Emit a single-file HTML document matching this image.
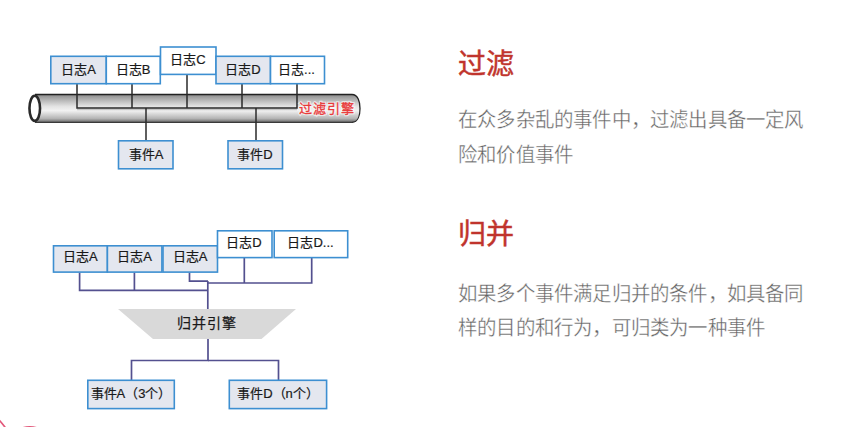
<!DOCTYPE html>
<html lang="zh-CN"><head><meta charset="utf-8">
<style>
html,body{margin:0;padding:0;background:#fff;width:864px;height:427px;overflow:hidden;}
body{font-family:"Liberation Sans",sans-serif;position:relative;}
svg{position:absolute;left:0;top:0;}
.t{position:absolute;white-space:nowrap;}
.h{color:#c0332c;font-size:28px;line-height:29px;left:457.5px;-webkit-text-stroke:0.5px #c23a30;}
.p{transform:scaleY(1.06);transform-origin:0 17px;color:#626262;-webkit-text-stroke:0.35px #fff;font-size:19.4px;letter-spacing:0.2px;line-height:34px;left:458px;}
</style></head><body>
<svg width="864" height="427" viewBox="0 0 864 427" font-family="Liberation Sans, sans-serif">
<defs>
<linearGradient id="pipe" x1="0" y1="0" x2="0" y2="1">
<stop offset="0" stop-color="#8a8a8a"/>
<stop offset="0.12" stop-color="#a5a5a5"/>
<stop offset="0.42" stop-color="#e2e2e2"/>
<stop offset="0.58" stop-color="#f2f2f2"/>
<stop offset="0.86" stop-color="#b5b5b5"/>
<stop offset="1" stop-color="#6a6a6a"/>
</linearGradient>
</defs>
<!-- Diagram 1 pipe -->
<path d="M35 94.5 L352 94.5 C358 94.5 360 102 360 108.4 C360 115 358 122.3 352 122.3 L35 122.3 Z" fill="url(#pipe)"/><path d="M35 94.5 L352 94.5 C358 94.5 360 102 360 108.4 C360 115 358 122.3 352 122.3" fill="none" stroke="#222" stroke-width="1.3"/><path d="M35 122.3 L352 122.3" stroke="#3a3a3a" stroke-width="1.2"/><path d="M77 109.4 H297" stroke="#777" stroke-opacity="0.35" stroke-width="1.5"/>
<ellipse cx="34.75" cy="108.3" rx="5.3" ry="12.6" fill="#fff" stroke="#2a2a2a" stroke-width="2.6"/>
<!-- connectors -->
<g stroke="#2a2a2a" stroke-width="1.5" fill="none">
<path d="M77 84 V108 H297 V84"/>
<path d="M132 84 V108"/>
<path d="M187 74 V108"/>
<path d="M242 84 V108"/>
<path d="M146 108 V140"/>
<path d="M256 108 V140"/>
</g>
<!-- boxes -->
<g stroke="#3d8fd1" stroke-width="1.6">
<rect x="50.8" y="56.3" width="55.5" height="27.4" fill="#e4e7ef"/>
<rect x="106.3" y="56.3" width="54" height="27.4" fill="#fff"/>
<rect x="160.5" y="47" width="55.5" height="27.4" fill="#fff"/>
<rect x="216" y="56.3" width="54.5" height="27.4" fill="#e4e7ef"/>
<rect x="270.5" y="56.3" width="54" height="27.4" fill="#fff"/>
<rect x="118.5" y="140.8" width="54.5" height="28" fill="#e4e7ef"/>
<rect x="228" y="140.8" width="54.5" height="28" fill="#e4e7ef"/>
</g>
<g font-size="13" fill="#1a1a1a" text-anchor="middle" stroke="#1a1a1a" stroke-width="0.2">
<text x="78.5" y="73.5">日志A</text>
<text x="133" y="73.5">日志B</text>
<text x="188" y="64.0">日志C</text>
<text x="243" y="73.5">日志D</text>
<text x="296.5" y="73.5">日志...</text>
<text x="146" y="158.5">事件A</text>
<text x="255" y="158.5">事件D</text>
</g>
<text x="327" y="113" font-size="13" fill="#fff" stroke="#fff" stroke-opacity="0.6" stroke-width="2.5" text-anchor="middle" letter-spacing="1">过滤引擎</text><text x="327" y="113" font-size="13" fill="#e83a3a" stroke="#e83a3a" stroke-width="0.35" text-anchor="middle" letter-spacing="1">过滤引擎</text>

<!-- Diagram 2 -->
<g stroke="#53508f" stroke-width="1.7" fill="none">
<path d="M79.6 272.5 V290.4 H208"/>
<path d="M134.4 272.5 V290.4"/>
<path d="M189.5 272.5 V281.2 H208"/>
<path d="M244.3 257.5 V283"/><path d="M208 283 H311.7 V257.5"/>
<path d="M207.8 281 V309"/>
<path d="M208 339 V360.5 H131.5 V380"/>
<path d="M208 360.5 H278.5 V380"/>
</g>
<polygon points="118,309 296,309 261.5,339 153,339" fill="#d9d9d9"/>
<g stroke="#3d8fd1" stroke-width="1.6">
<rect x="53.5" y="245.8" width="53.9" height="26.3" fill="#e4e7ef"/>
<rect x="107.4" y="245.8" width="54.5" height="26.3" fill="#e4e7ef"/>
<rect x="163" y="245.8" width="54.5" height="26.3" fill="#e4e7ef"/>
<rect x="217.5" y="230.8" width="54.5" height="26.8" fill="#fff"/>
<rect x="274.2" y="230.8" width="73.5" height="26.8" fill="#fff"/>
<rect x="87.8" y="380.3" width="86.5" height="28.3" fill="#e4e7ef"/>
<rect x="229.3" y="380.3" width="97.3" height="28.3" fill="#e4e7ef"/>
</g>
<g font-size="13" fill="#1a1a1a" text-anchor="middle" stroke="#1a1a1a" stroke-width="0.2">
<text x="80.3" y="261">日志A</text>
<text x="134.5" y="261">日志A</text>
<text x="190" y="261">日志A</text>
<text x="244" y="246.7">日志D</text>
<text x="310.5" y="246.7">日志D...</text>
<text x="131" y="397.5">事件A（3个）</text>
<text x="278" y="397.5">事件D（n个）</text>
</g>
<text x="207" y="328.3" font-size="14" fill="#1a1a1a" stroke="#1a1a1a" stroke-width="0.25" text-anchor="middle" letter-spacing="1">归并引擎</text>
<!-- bottom-left red circle -->
<path d="M-1 419.8 Q2 423 6 428.5" fill="none" stroke="#e2587a" stroke-width="1.7"/><path d="M22.5 428 Q29.7 425.6 37 428" fill="none" stroke="#e2587a" stroke-width="1.8"/>
</svg>
<div class="t h" style="top:49.8px">过滤</div>
<div class="t p" style="top:102.5px">在众多杂乱的事件中，过滤出具备一定风</div><div class="t p" style="top:137.5px">险和价值事件</div>
<div class="t h" style="top:219.8px">归并</div>
<div class="t p" style="top:276.5px">如果多个事件满足归并的条件，如具备同</div><div class="t p" style="top:310.5px">样的目的和行为，可归类为一种事件</div>
</body></html>
